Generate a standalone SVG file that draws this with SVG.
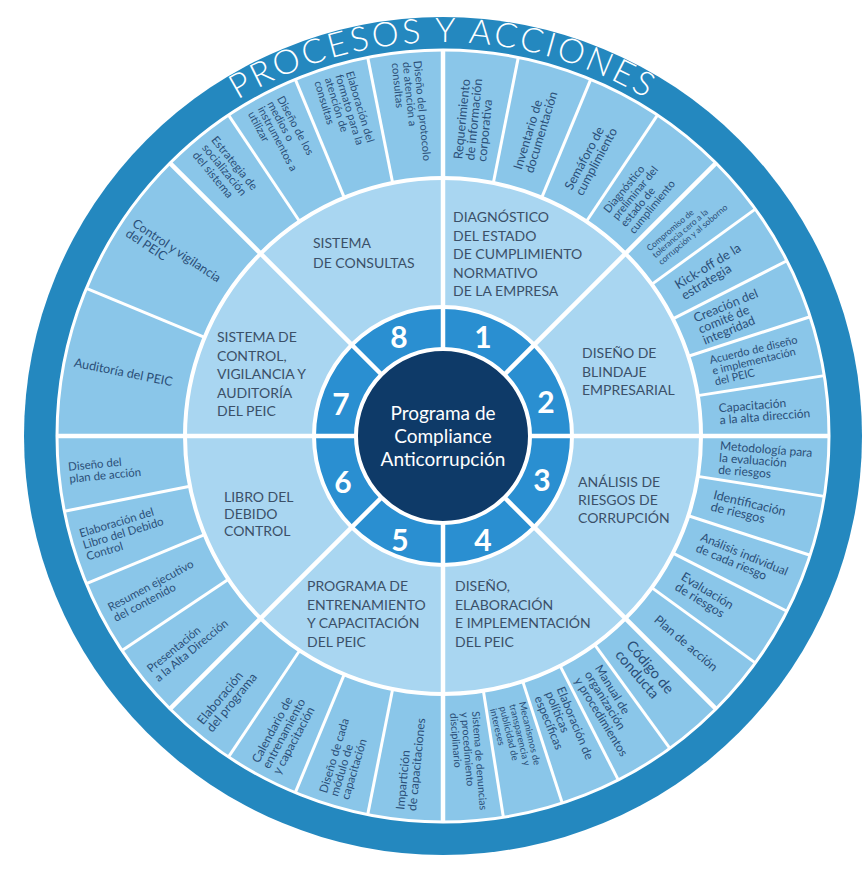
<svg xmlns="http://www.w3.org/2000/svg" width="864" height="869" viewBox="0 0 864 869">
<defs>
<style>
.seg{fill:#2b4f78;font-family:Lato,'Open Sans',sans-serif;font-size:12.5px}
.cat{fill:#3b5068;font-family:Lato,'Open Sans',sans-serif;font-size:14px}
.num{fill:#ffffff;font-family:Lato,'Liberation Sans',sans-serif;font-weight:700;font-size:30px;text-anchor:middle}
.ctr{fill:#ffffff;font-family:Lato,'Open Sans',sans-serif;font-size:19px;text-anchor:middle}
.title{fill:#ffffff;font-family:Lato,'Open Sans',sans-serif;font-size:34px;letter-spacing:3px;font-weight:300}
.minor{stroke:#ffffff;stroke-width:3}
.major{stroke:#ffffff;stroke-width:4.5}
</style>
<path id="titleArc" d="M 49 436 A 394 394 0 0 1 837 436" fill="none"/>
<line id="minorLine" x1="443" y1="178" x2="443" y2="50" class="minor"/>
<line id="majorLine" x1="443" y1="349" x2="443" y2="50" class="major"/>
</defs>
<rect width="864" height="869" fill="#ffffff"/>

<g id="rings">
<circle cx="443" cy="436" r="419" fill="#2488bf"/>
<circle cx="443" cy="436" r="386" fill="#8ac6e9" stroke="#ffffff" stroke-width="3"/>
</g>

<g id="connectors">
<use href="#minorLine" transform="rotate(11.25 443 436)"/>
<use href="#minorLine" transform="rotate(22.5 443 436)"/>
<use href="#minorLine" transform="rotate(33.75 443 436)"/>
<use href="#minorLine" transform="rotate(54 443 436)"/>
<use href="#minorLine" transform="rotate(63 443 436)"/>
<use href="#minorLine" transform="rotate(72 443 436)"/>
<use href="#minorLine" transform="rotate(81 443 436)"/>
<use href="#minorLine" transform="rotate(99 443 436)"/>
<use href="#minorLine" transform="rotate(108 443 436)"/>
<use href="#minorLine" transform="rotate(117 443 436)"/>
<use href="#minorLine" transform="rotate(126 443 436)"/>
<use href="#minorLine" transform="rotate(144 443 436)"/>
<use href="#minorLine" transform="rotate(153 443 436)"/>
<use href="#minorLine" transform="rotate(162 443 436)"/>
<use href="#minorLine" transform="rotate(171 443 436)"/>
<use href="#minorLine" transform="rotate(191.25 443 436)"/>
<use href="#minorLine" transform="rotate(202.5 443 436)"/>
<use href="#minorLine" transform="rotate(213.75 443 436)"/>
<use href="#minorLine" transform="rotate(236.25 443 436)"/>
<use href="#minorLine" transform="rotate(247.5 443 436)"/>
<use href="#minorLine" transform="rotate(258.75 443 436)"/>
<use href="#minorLine" transform="rotate(292.5 443 436)"/>
<use href="#minorLine" transform="rotate(326.25 443 436)"/>
<use href="#minorLine" transform="rotate(337.5 443 436)"/>
<use href="#minorLine" transform="rotate(348.75 443 436)"/>
<circle cx="443" cy="436" r="258" fill="#a9d6f1" stroke="#ffffff" stroke-width="4"/>
<circle cx="443" cy="436" r="129" fill="#2a8fd1" stroke="#ffffff" stroke-width="4"/>
<use href="#majorLine"/>
<use href="#majorLine" transform="rotate(45 443 436)"/>
<use href="#majorLine" transform="rotate(90 443 436)"/>
<use href="#majorLine" transform="rotate(135 443 436)"/>
<use href="#majorLine" transform="rotate(180 443 436)"/>
<use href="#majorLine" transform="rotate(225 443 436)"/>
<use href="#majorLine" transform="rotate(270 443 436)"/>
<use href="#majorLine" transform="rotate(315 443 436)"/>
</g>

<g id="title">
<text class="title"><textPath href="#titleArc" startOffset="50%" text-anchor="middle">PROCESOS Y ACCIONES</textPath></text>
</g>

<g id="center">
<circle cx="443" cy="436" r="87" fill="#0e3a68" stroke="#ffffff" stroke-width="4"/>
<text class="ctr" x="443" y="420">Programa de</text>
<text class="ctr" x="443" y="443">Compliance</text>
<text class="ctr" x="443" y="466">Anticorrupción</text>
</g>

<g id="numbers">
<text class="num" x="483" y="348">1</text>
<text class="num" x="546" y="413">2</text>
<text class="num" x="542" y="491">3</text>
<text class="num" x="483" y="551">4</text>
<text class="num" x="400" y="551">5</text>
<text class="num" x="343" y="493">6</text>
<text class="num" x="341" y="415">7</text>
<text class="num" x="399" y="348">8</text>
</g>

<g id="cat1"><text class="cat"><tspan x="453" y="222">DIAGNÓSTICO</tspan><tspan x="453" y="240.5">DEL ESTADO</tspan><tspan x="453" y="259">DE CUMPLIMIENTO</tspan><tspan x="453" y="277.5">NORMATIVO</tspan><tspan x="453" y="296">DE LA EMPRESA</tspan></text></g>
<g id="cat2"><text class="cat"><tspan x="582" y="358">DISEÑO DE</tspan><tspan x="582" y="377">BLINDAJE</tspan><tspan x="582" y="395">EMPRESARIAL</tspan></text></g>
<g id="cat3"><text class="cat"><tspan x="578" y="487">ANÁLISIS DE</tspan><tspan x="578" y="505">RIESGOS DE</tspan><tspan x="578" y="523">CORRUPCIÓN</tspan></text></g>
<g id="cat4"><text class="cat"><tspan x="455" y="591">DISEÑO,</tspan><tspan x="455" y="609.5">ELABORACIÓN</tspan><tspan x="455" y="628">E IMPLEMENTACIÓN</tspan><tspan x="455" y="646.5">DEL PEIC</tspan></text></g>
<g id="cat5"><text class="cat"><tspan x="307" y="591">PROGRAMA DE</tspan><tspan x="307" y="609.5">ENTRENAMIENTO</tspan><tspan x="307" y="628">Y CAPACITACIÓN</tspan><tspan x="307" y="646.5">DEL PEIC</tspan></text></g>
<g id="cat6"><text class="cat"><tspan x="224" y="502">LIBRO DEL</tspan><tspan x="224" y="519">DEBIDO</tspan><tspan x="224" y="536">CONTROL</tspan></text></g>
<g id="cat7"><text class="cat"><tspan x="217" y="342">SISTEMA DE</tspan><tspan x="217" y="360.5">CONTROL,</tspan><tspan x="217" y="379">VIGILANCIA Y</tspan><tspan x="217" y="397.5">AUDITORÍA</tspan><tspan x="217" y="416">DEL PEIC</tspan></text></g>
<g id="cat8"><text class="cat"><tspan x="313" y="248">SISTEMA</tspan><tspan x="313" y="268">DE CONSULTAS</tspan></text></g>

<g id="s1a"><text class="seg" transform="translate(443 436) rotate(-84.375)"><tspan x="277" y="-8">Requerimiento</tspan><tspan x="277" y="4">de información</tspan><tspan x="277" y="16">corporativa</tspan></text></g>
<g id="s1b"><text class="seg" transform="translate(443 436) rotate(-73.125)"><tspan x="277" y="-2">Inventario de</tspan><tspan x="277" y="10">documentación</tspan></text></g>
<g id="s1c"><text class="seg" transform="translate(443 436) rotate(-61.875)"><tspan x="277" y="-2">Semáforo de</tspan><tspan x="277" y="10">cumplimiento</tspan></text></g>
<g id="s1d"><text class="seg" style="font-size:11px" transform="translate(443 436) rotate(-50.625)"><tspan x="277" y="-13">Diagnóstico</tspan><tspan x="277" y="-2">preliminar del</tspan><tspan x="277" y="9">estado de</tspan><tspan x="277" y="20">cumplimiento</tspan></text></g>

<g id="s2a"><text class="seg" style="font-size:8.5px" transform="translate(443 436) rotate(-40.5)"><tspan x="277" y="-6">Compromiso de</tspan><tspan x="277" y="3">tolerancia cero a la</tspan><tspan x="277" y="12">corrupción y al soborno</tspan></text></g>
<g id="s2b"><text class="seg" style="font-size:13px" transform="translate(443 436) rotate(-31.5)"><tspan x="277" y="-2">Kick-off de la</tspan><tspan x="277" y="10.5">estrategia</tspan></text></g>
<g id="s2c"><text class="seg" transform="translate(443 436) rotate(-22.5)"><tspan x="277" y="-8">Creación del</tspan><tspan x="277" y="4">comité de</tspan><tspan x="277" y="16">integridad</tspan></text></g>
<g id="s2d"><text class="seg" style="font-size:11px" transform="translate(443 436) rotate(-13.5)"><tspan x="277" y="-7.5">Acuerdo de diseño</tspan><tspan x="277" y="3.5">e implementación</tspan><tspan x="277" y="14.5">del PEIC</tspan></text></g>
<g id="s2e"><text class="seg" style="font-size:12px" transform="translate(443 436) rotate(-4.5)"><tspan x="277" y="-2">Capacitación</tspan><tspan x="277" y="10">a la alta dirección</tspan></text></g>

<g id="s3a"><text class="seg" style="font-size:12px" transform="translate(443 436) rotate(4.5)"><tspan x="277" y="-8">Metodología para</tspan><tspan x="277" y="4">la evaluación</tspan><tspan x="277" y="16">de riesgos</tspan></text></g>
<g id="s3b"><text class="seg" transform="translate(443 436) rotate(13.5)"><tspan x="277" y="-2">Identificación</tspan><tspan x="277" y="10">de riesgos</tspan></text></g>
<g id="s3c"><text class="seg" style="font-size:12px" transform="translate(443 436) rotate(22.5)"><tspan x="277" y="-2">Análisis individual</tspan><tspan x="277" y="10">de cada riesgo</tspan></text></g>
<g id="s3d"><text class="seg" transform="translate(443 436) rotate(31.5)"><tspan x="277" y="-2">Evaluación</tspan><tspan x="277" y="10">de riesgos</tspan></text></g>
<g id="s3e"><text class="seg" transform="translate(443 436) rotate(40.5)"><tspan x="280" y="4">Plan de acción</tspan></text></g>

<g id="s4a"><text class="seg" style="font-size:14.5px" transform="translate(443 436) rotate(49.5)"><tspan x="278" y="-2.5">Código de</tspan><tspan x="278" y="12">conducta</tspan></text></g>
<g id="s4b"><text class="seg" style="font-size:12px" transform="translate(443 436) rotate(58.5)"><tspan x="277" y="-8">Manual de</tspan><tspan x="277" y="4">organización</tspan><tspan x="277" y="16">y procedimientos</tspan></text></g>
<g id="s4c"><text class="seg" style="font-size:12px" transform="translate(443 436) rotate(67.5)"><tspan x="277" y="-8">Elaboración de</tspan><tspan x="277" y="4">políticas</tspan><tspan x="277" y="16">específicas</tspan></text></g>
<g id="s4d"><text class="seg" style="font-size:9.5px" transform="translate(443 436) rotate(76.5)"><tspan x="277" y="-11.7">Mecanismos de</tspan><tspan x="277" y="-1.7">transparencia y</tspan><tspan x="277" y="8.3">publicidad de</tspan><tspan x="277" y="18.3">intereses</tspan></text></g>
<g id="s4e"><text class="seg" style="font-size:10.5px" transform="translate(443 436) rotate(85.5)"><tspan x="277" y="-7.3">Sistema de denuncias</tspan><tspan x="277" y="3.7">y procedimiento</tspan><tspan x="277" y="14.7">disciplinario</tspan></text></g>

<g id="s5a"><text class="seg" style="font-size:12px" transform="translate(443 436) rotate(-84.375)"><tspan x="-376" y="-2">Impartición</tspan><tspan x="-376" y="10">de capacitaciones</tspan></text></g>
<g id="s5b"><text class="seg" style="font-size:11.5px" transform="translate(443 436) rotate(-73.125)"><tspan x="-376" y="-7.5">Diseño de cada</tspan><tspan x="-376" y="4">módulo de</tspan><tspan x="-376" y="15.5">capacitación</tspan></text></g>
<g id="s5c"><text class="seg" style="font-size:12px" transform="translate(443 436) rotate(-61.875)"><tspan x="-376" y="-8">Calendario de</tspan><tspan x="-376" y="4">entrenamiento</tspan><tspan x="-376" y="16">y capacitación</tspan></text></g>
<g id="s5d"><text class="seg" transform="translate(443 436) rotate(-50.625)"><tspan x="-376" y="-2">Elaboración</tspan><tspan x="-376" y="10">del programa</tspan></text></g>

<g id="s6a"><text class="seg" style="font-size:11.5px" transform="translate(443 436) rotate(-39.375)"><tspan x="-376" y="-2">Presentación</tspan><tspan x="-376" y="10">a la Alta Dirección</tspan></text></g>
<g id="s6b"><text class="seg" style="font-size:11.5px" transform="translate(443 436) rotate(-28.125)"><tspan x="-376" y="-2">Resumen ejecutivo</tspan><tspan x="-376" y="10">del contenido</tspan></text></g>
<g id="s6c"><text class="seg" style="font-size:11.5px" transform="translate(443 436) rotate(-16.875)"><tspan x="-376" y="-8">Elaboración del</tspan><tspan x="-376" y="4">Libro del Debido</tspan><tspan x="-376" y="16">Control</tspan></text></g>
<g id="s6d"><text class="seg" style="font-size:11.5px" transform="translate(443 436) rotate(-5.625)"><tspan x="-376" y="-2">Diseño del</tspan><tspan x="-376" y="10">plan de acción</tspan></text></g>

<g id="s7a"><text class="seg" transform="translate(443 436) rotate(11.25)"><tspan x="-376" y="4">Auditoría del PEIC</tspan></text></g>
<g id="s7b"><text class="seg" transform="translate(443 436) rotate(33.75)"><tspan x="-376" y="-2">Control y vigilancia</tspan><tspan x="-376" y="10">del PEIC</tspan></text></g>

<g id="s8a"><text class="seg" style="font-size:11.5px" transform="translate(443 436) rotate(50.625)"><tspan x="-376" y="-8">Estrategia de</tspan><tspan x="-376" y="4">socialización</tspan><tspan x="-376" y="16">del sistema</tspan></text></g>
<g id="s8b"><text class="seg" style="font-size:11px" transform="translate(443 436) rotate(61.875)"><tspan x="-376" y="-12.5">Diseño de los</tspan><tspan x="-376" y="-1.5">medios o</tspan><tspan x="-376" y="9.5">instrumentos a</tspan><tspan x="-376" y="20.5">utilizar</tspan></text></g>
<g id="s8c"><text class="seg" style="font-size:11px" transform="translate(443 436) rotate(73.125)"><tspan x="-376" y="-12.5">Elaboración del</tspan><tspan x="-376" y="-1.5">formato para la</tspan><tspan x="-376" y="9.5">atención de</tspan><tspan x="-376" y="20.5">consultas</tspan></text></g>
<g id="s8d"><text class="seg" style="font-size:11px" transform="translate(443 436) rotate(84.375)"><tspan x="-376" y="-7.5">Diseño del protocolo</tspan><tspan x="-376" y="3.5">de atención a</tspan><tspan x="-376" y="14.5">consultas</tspan></text></g>
</svg>
